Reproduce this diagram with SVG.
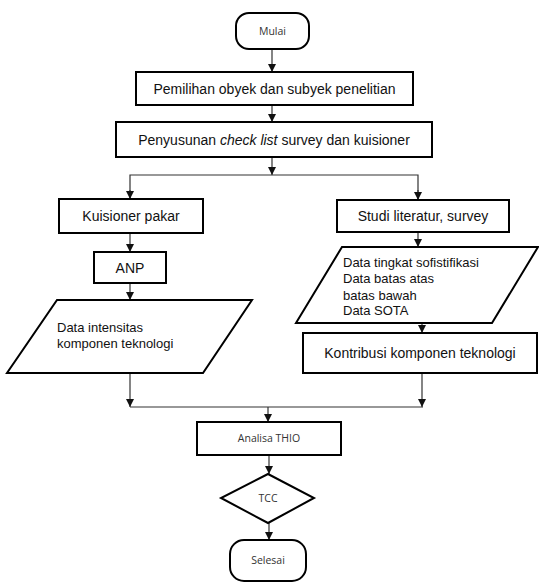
<svg xmlns="http://www.w3.org/2000/svg" width="539" height="583" viewBox="0 0 539 583">
<style>
.box{fill:#fff;stroke:#000;stroke-width:2}
.ln{fill:none;stroke:#333;stroke-width:1.2}
.t{font-family:"Liberation Sans",Arial,sans-serif;font-size:14px;fill:#111}
.s{font-family:"Liberation Sans",Arial,sans-serif;font-size:13px;fill:#111}
.c{font-family:"Open Sans","Liberation Sans",sans-serif;font-size:10.5px;fill:#333}
</style>
<defs>
<marker id="ah" viewBox="0 0 8 8" refX="8" refY="4" markerWidth="8" markerHeight="8" markerUnits="userSpaceOnUse" orient="auto">
<path d="M0,0 L8,4 L0,8 Z" fill="#111"/>
</marker>
</defs>
<rect width="539" height="583" fill="#fff"/>
<g id="connectors">
<line class="ln" x1="272" y1="49" x2="272" y2="72" marker-end="url(#ah)"/>
<line class="ln" x1="272" y1="105" x2="272" y2="122" marker-end="url(#ah)"/>
<line class="ln" x1="272" y1="157" x2="272" y2="175" marker-end="url(#ah)"/>
<polyline class="ln" points="130,199 130,175 418,175 418,200"/>
<line class="ln" x1="130" y1="190" x2="130" y2="199" marker-end="url(#ah)"/>
<line class="ln" x1="418" y1="190" x2="418" y2="200" marker-end="url(#ah)"/>
<line class="ln" x1="130" y1="233" x2="130" y2="252" marker-end="url(#ah)"/>
<line class="ln" x1="130" y1="283" x2="130" y2="300" marker-end="url(#ah)"/>
<line class="ln" x1="418" y1="232" x2="418" y2="247" marker-end="url(#ah)"/>
<line class="ln" x1="422" y1="323" x2="422" y2="333" marker-end="url(#ah)"/>
<line class="ln" x1="130" y1="373" x2="130" y2="407" marker-end="url(#ah)"/>
<line class="ln" x1="422" y1="373" x2="422" y2="407" marker-end="url(#ah)"/>
<line class="ln" x1="130" y1="407" x2="423" y2="407"/>
<line class="ln" x1="268" y1="407" x2="268" y2="422" marker-end="url(#ah)"/>
<line class="ln" x1="269" y1="455" x2="269" y2="474" marker-end="url(#ah)"/>
<line class="ln" x1="269" y1="523" x2="269" y2="540" marker-end="url(#ah)"/>
</g>
<g id="mulai">
<rect class="box" x="236" y="13" width="73" height="36" rx="13"/>
<text class="c" x="272.5" y="35" text-anchor="middle">Mulai</text>
</g>
<g id="pemilihan">
<rect class="box" x="136" y="72" width="277" height="33"/>
<text class="t" x="274.5" y="93.5" text-anchor="middle">Pemilihan obyek dan subyek penelitian</text>
</g>
<g id="penyusunan">
<rect class="box" x="116" y="122" width="316" height="35"/>
<text class="t" x="274" y="144.5" text-anchor="middle">Penyusunan <tspan font-style="italic">check list</tspan> survey dan kuisioner</text>
</g>
<g id="kuisioner">
<rect class="box" x="59" y="199" width="144" height="34"/>
<text class="t" x="131" y="221" text-anchor="middle">Kuisioner pakar</text>
</g>
<g id="anp">
<rect class="box" x="94" y="252" width="72" height="31"/>
<text class="t" x="130" y="273" text-anchor="middle">ANP</text>
</g>
<g id="data-intensitas">
<polygon class="box" points="57,300 252,300 203,373 7,373"/>
<text class="s" x="57" y="332">Data intensitas</text>
<text class="s" x="57" y="348">komponen teknologi</text>
</g>
<g id="studi">
<rect class="box" x="337" y="200" width="172" height="32"/>
<text class="t" x="423" y="221" text-anchor="middle">Studi literatur, survey</text>
</g>
<g id="data-tingkat">
<polygon class="box" points="342,247 538,247 492,323 296,323"/>
<text class="s" x="343" y="267">Data tingkat sofistifikasi</text>
<text class="s" x="343" y="283">Data batas atas</text>
<text class="s" x="343" y="300">batas bawah</text>
<text class="s" x="343" y="315">Data SOTA</text>
</g>
<g id="kontribusi">
<rect class="box" x="303" y="333" width="234" height="40"/>
<text class="t" x="420" y="358" text-anchor="middle">Kontribusi komponen teknologi</text>
</g>
<g id="analisa">
<rect class="box" x="197" y="422" width="144" height="33"/>
<text class="c" x="269" y="442" text-anchor="middle">Analisa THIO</text>
</g>
<g id="tcc">
<polygon class="box" points="268,474 314,498 268,523 221,498"/>
<text class="c" x="268" y="502" text-anchor="middle">TCC</text>
</g>
<g id="selesai">
<rect class="box" x="230" y="540" width="76" height="41" rx="14"/>
<text class="c" x="268" y="564" text-anchor="middle">Selesai</text>
</g>
</svg>
